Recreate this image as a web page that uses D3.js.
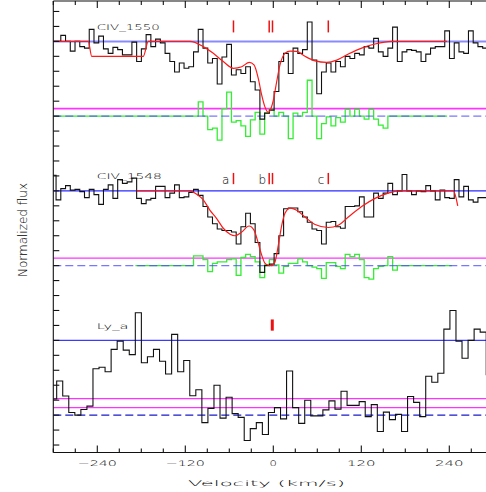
<!DOCTYPE html>
<html>
<head>
<meta charset="utf-8">
<script src="https://cdn.jsdelivr.net/npm/d3@7/dist/d3.min.js"></script>
<style>
  body { margin: 0; background: #fff; }
  svg { display: block; }
  text { font-family: "DejaVu Sans", sans-serif; font-weight: 200; fill: #000; }
</style>
</head>
<body>
<svg id="chart" width="486" height="492"></svg>
<script>
// ---- pixel grids (km/s) ----
const civBinStart = -302.7, civBinWidth = 6.464;   // CIV pixels
const lyaBinStart = -303.65, lyaBinWidth = 8.25;   // Ly-a pixels

// ---- normalised flux per pixel ----
const civ1550Flux = [
  1.00, 1.00, 1.08, 1.00, 0.87, 1.00, 0.93, 0.91, 1.16, 0.98,
  1.07, 0.90, 0.84, 0.92, 0.89, 0.82, 0.82, 0.99, 0.73, 0.90,
  1.09, 0.93, 1.03, 0.98, 0.84, 0.73, 0.59, 0.71, 0.64, 0.66,
  0.86, 1.16, 0.91, 0.71, 0.77, 0.43, 0.79, 0.96, 0.55, 0.62,
  0.57, 0.66, 0.46, 0.35, -0.04, 0.04, 0.08, 0.33, 0.73, 0.84,
  0.57, 0.91, 0.84, 0.89, 1.26, 0.75, 0.30, 0.59, 0.71, 0.59,
  0.73, 0.66, 0.80, 0.77, 0.84, 0.82, 0.93, 0.91, 1.04, 0.86,
  0.80, 0.91, 1.19, 0.73, 0.86, 0.89, 0.88, 0.86, 0.73, 0.83,
  0.91, 0.93, 0.93, 1.14, 0.77, 0.98, 0.86, 0.84, 1.14, 0.98,
  0.93, 0.91
];
const civ1548Flux = [
  1.21, 0.88, 1.03, 1.07, 1.01, 1.02, 0.99, 0.91, 1.02, 0.95,
  0.82, 1.02, 1.08, 0.90, 1.15, 1.10, 1.12, 1.17, 0.90, 0.83,
  0.88, 0.90, 1.06, 1.06, 0.91, 0.97, 1.08, 0.91, 0.92, 0.98,
  1.02, 0.94, 0.79, 0.65, 0.56, 0.49, 0.47, 0.47, 0.45, 0.29,
  0.52, 0.70, 0.56, 0.31, -0.09, 0.00, 0.02, 0.16, 0.40, 0.76,
  0.77, 0.77, 0.72, 0.65, 0.58, 0.49, 0.47, 0.29, 0.58, 0.59,
  0.52, 0.50, 0.79, 0.79, 0.80, 0.92, 0.65, 0.65, 0.97, 0.90,
  0.97, 1.10, 0.95, 1.00, 1.22, 1.00, 0.95, 1.00, 0.99, 1.07,
  1.00, 0.88, 1.01, 0.91, 0.90, 1.15, 0.92, 1.06, 0.88, 0.85,
  0.91, 0.91
];
const lyaFlux = [
  0.215, 0.457, 0.256, 0.036, 0.00, 0.076, 0.12, 0.62, 0.64, 0.58,
  0.88, 0.99, 0.87, 0.81, 1.37, 0.70, 0.78, 0.88, 0.72, 0.55,
  1.08, 0.58, 0.73, 0.26, 0.34, -0.10, 0.09, 0.40, -0.04, 0.24,
  0.02, -0.03, -0.34, -0.18, -0.10, -0.26, 0.036, 0.10, -0.05, 0.59,
  0.10, -0.11, 0.20, -0.01, -0.01, 0.07, 0.19, 0.08, 0.32, 0.13,
  0.13, 0.18, -0.02, 0.14, -0.22, 0.04, -0.06, 0.01, -0.22, 0.25,
  0.17, -0.02, 0.52, 0.44, 0.56, 1.15, 1.40, 0.99, 0.76, 1.00,
  1.15, 1.11, 0.54
];

// ---- fit residuals: first pixel index on the CIV grid, values, fit window ----
const civ1550ResidFirst = 31;
const civ1550Resid = [
  0.19, 0.00, -0.18, -0.16, -0.32, 0.10, 0.32, -0.08, -0.06, -0.13,
  -0.27, -0.05, 0.05, -0.24, 0.04, 0.09, 0.00, 0.05, 0.00, -0.30,
  0.04, 0.00, 0.05, 0.48, 0.00, -0.30, -0.10, -0.01, -0.13, -0.02,
  -0.08, 0.09, 0.00, 0.09, 0.00, -0.04, 0.09, -0.04, -0.12, -0.16
];
const civ1550Window = [-300, 237];
const civ1548ResidFirst = 30;
const civ1548Resid = [
  0.13, 0.13, 0.08, -0.08, 0.03, 0.05, 0.05, 0.08, 0.09, -0.13,
  0.11, 0.15, 0.12, 0.05, -0.16, 0.01, 0.08, 0.01, -0.10, -0.01,
  0.03, 0.03, 0.09, 0.05, 0.00, -0.02, -0.04, -0.17, 0.04, 0.04,
  -0.01, -0.04, 0.15, 0.12, 0.15, 0.08, -0.16, -0.18, -0.04, -0.01,
  0.00, 0.12, -0.06
];
const civ1548Window = [-188, 243.6];

// ---- Voigt-profile fits: [velocity, flux] ----
const civ1550Model = [
  [-300, 1.0], [-252.3, 1.0], [-247.6, 0.80], [-177.3, 0.80], [-170.5, 1.0],
  [-113.6, 1.0], [-95.5, 0.93], [-81.8, 0.84], [-68.2, 0.73], [-54.5, 0.64],
  [-43.1, 0.66], [-32.7, 0.72], [-26.3, 0.685], [-20.5, 0.505], [-15.8, 0.28],
  [-11.3, 0.12], [-6.8, 0.05], [-4.5, 0.075], [0, 0.21], [4.6, 0.46],
  [9.1, 0.685], [15.9, 0.84], [22.8, 0.87], [31.9, 0.865], [43.2, 0.80],
  [56.9, 0.74], [72.8, 0.72], [86.5, 0.75], [102.3, 0.83], [120.5, 0.91],
  [138.7, 0.965], [161.5, 1.0], [237, 1.0]
];
const civ1548Model = [
  [-186.3, 1.0], [-113.6, 1.0], [-104.5, 0.955], [-95.5, 0.88], [-86.3, 0.74],
  [-77.2, 0.63], [-68.2, 0.50], [-59.0, 0.42], [-52.2, 0.40], [-43.1, 0.45],
  [-33.1, 0.53], [-26.3, 0.475], [-20.5, 0.30], [-15.8, 0.14], [-11.3, 0.03],
  [-6.8, 0.005], [-2.2, 0.0], [2.3, 0.05], [6.8, 0.27], [11.5, 0.54],
  [15.9, 0.70], [22.8, 0.77], [31.9, 0.74], [43.2, 0.65], [56.9, 0.55],
  [75.0, 0.51], [88.6, 0.54], [102.3, 0.65], [120.5, 0.79], [138.7, 0.90],
  [156.8, 0.97], [170.5, 1.0], [245.5, 1.0], [251.5, 0.80]
];

// ---- component positions and names ----
const civComponentVel = [-54.3, -5.6, -1.1, 75.0];
const civComponentNames = ["a", "b", "", "c"];
const lyaComponentVel = [-1.4];

// ---- labels and levels ----
const panelNames = ["CIV_1550", "CIV_1548", "Ly_a"];
const velocityTicks = [-240, -120, 0, 120, 240];
const velocityTickLabels = ["\u2212240", "\u2212120", "0", "120", "240"];
const errorLevels = [[0.1], [0.1], [0.22, 0.1]];

// ================= drawing =================
const svg = d3.select("#chart");
const x = d3.scaleLinear().domain([-300, 300]).range([53.3, 493.3]);
// three panels stacked; each spans flux -0.5 .. 1.5
const stack = d3.scaleLinear().domain([-0.5, 5.5]).range([452.5, 4]);
const panelOffset = [4, 2, 0];
const yOf = (p, f) => stack(panelOffset[p] + f);

const gridPoints = (start, width, values) => {
  const pts = values.map((f, i) => [start + i * width, f]);
  pts.push([start + values.length * width, values[values.length - 1]]);
  return pts;
};

function stepPath(p, pts) {
  return d3.line().x(d => x(d[0])).y(d => yOf(p, d[1])).curve(d3.curveStepAfter)(pts);
}
function smoothPath(p, pts) {
  return d3.line().x(d => x(d[0])).y(d => yOf(p, d[1])).curve(d3.curveMonotoneX)(pts);
}
function residPoints(first, values, win) {
  const start = civBinStart + first * civBinWidth;
  const pts = [[win[0], 0], [start, 0]];
  gridPoints(start, civBinWidth, values).forEach(d => pts.push(d));
  const end = start + values.length * civBinWidth;
  pts[pts.length - 1] = [end, values[values.length - 1]];
  pts.push([end, 0], [win[1], 0]);
  return pts;
}

svg.append("clipPath").attr("id", "plotClip")
  .append("rect").attr("x", 53.3).attr("y", 0).attr("width", 440).attr("height", 452.5);
const plot = svg.append("g").attr("clip-path", "url(#plotClip)");

const contStyle = [
  { stroke: "#8a8aff", width: 2 },
  { stroke: "#2a2aff", width: 1.2 },
  { stroke: "#3a3aff", width: 1.2 }
];

const fluxSets = [
  gridPoints(civBinStart, civBinWidth, civ1550Flux),
  gridPoints(civBinStart, civBinWidth, civ1548Flux),
  gridPoints(lyaBinStart, lyaBinWidth, lyaFlux)
];
const residSets = [
  residPoints(civ1550ResidFirst, civ1550Resid, civ1550Window),
  residPoints(civ1548ResidFirst, civ1548Resid, civ1548Window),
  null
];
const modelSets = [civ1550Model, civ1548Model, null];

for (let p = 0; p < 3; p++) {
  const g = plot.append("g");
  // continuum
  g.append("line").attr("x1", x(-300)).attr("x2", x(300))
    .attr("y1", yOf(p, 1)).attr("y2", yOf(p, 1))
    .attr("stroke", contStyle[p].stroke).attr("stroke-width", contStyle[p].width);
  // error levels
  errorLevels[p].forEach(lv => {
    g.append("line").attr("x1", x(-300)).attr("x2", x(300))
      .attr("y1", yOf(p, lv)).attr("y2", yOf(p, lv))
      .attr("stroke", "#ff33ff").attr("stroke-width", p === 0 ? 1.8 : 1.2);
  });
  // residuals
  if (residSets[p]) {
    g.append("path").attr("d", stepPath(p, residSets[p]))
      .attr("fill", "none").attr("stroke", "#33ee33").attr("stroke-width", 1.3);
  }
  // zero level
  g.append("line").attr("x1", x(-300)).attr("x2", x(300))
    .attr("y1", yOf(p, 0)).attr("y2", yOf(p, 0))
    .attr("stroke", p === 2 ? "#1a1acc" : "#4a4aff")
    .attr("stroke-opacity", p === 2 ? 1 : 0.75)
    .attr("stroke-width", 1.2).attr("stroke-dasharray", "8,4");
  // data
  g.append("path").attr("d", stepPath(p, fluxSets[p]))
    .attr("fill", "none").attr("stroke", "#111").attr("stroke-width", 1.1);
  // fit
  if (modelSets[p]) {
    g.append("path").attr("d", smoothPath(p, modelSets[p]))
      .attr("fill", "none").attr("stroke", "#ff1a1a").attr("stroke-width", 1.2);
  }
}

// component marks
const markSpan = [[1.12, 1.28], [1.09, 1.24], [1.13, 1.28]];
[0, 1].forEach(p => {
  civComponentVel.forEach(v => {
    svg.append("line").attr("x1", x(v)).attr("x2", x(v))
      .attr("y1", yOf(p, markSpan[p][0])).attr("y2", yOf(p, markSpan[p][1]))
      .attr("stroke", "#ee1111").attr("stroke-width", 1.5);
  });
});
lyaComponentVel.forEach(v => {
  svg.append("line").attr("x1", x(v)).attr("x2", x(v))
    .attr("y1", yOf(2, markSpan[2][0])).attr("y2", yOf(2, markSpan[2][1]))
    .attr("stroke", "#ee1111").attr("stroke-width", 3);
});
civComponentVel.forEach((v, i) => {
  if (!civComponentNames[i]) return;
  svg.append("text").attr("x", x(v) - (i === 1 ? 3 : 4)).attr("y", yOf(1, 1.098))
    .attr("text-anchor", "end").attr("font-size", 12).attr("font-weight", 300)
    .attr("fill", "#222").text(civComponentNames[i]);
});

// panel names
const nameWidth = [63, 65, 31.6];
panelNames.forEach((name, p) => {
  svg.append("text").attr("x", 96.8).attr("y", yOf(p, 1.155))
    .attr("font-size", 7.8).attr("textLength", nameWidth[p])
    .attr("lengthAdjust", "spacingAndGlyphs").text(name);
});

// frame
const axis = svg.append("g").attr("stroke", "#111").attr("stroke-width", 1.1);
const yBottom = 452.5, yTop = 1;
axis.append("line").attr("x1", x(-300)).attr("x2", x(-300)).attr("y1", yTop).attr("y2", yBottom);
axis.append("line").attr("x1", x(-300)).attr("x2", x(300)).attr("y1", yBottom).attr("y2", yBottom);
axis.append("line").attr("x1", x(-300)).attr("x2", x(300)).attr("y1", yTop).attr("y2", yTop);

// velocity ticks every 30 km/s, longer every 120 km/s
d3.range(-300, 301, 30).forEach(v => {
  const len = v % 120 === 0 ? 7 : 4;
  axis.append("line").attr("x1", x(v)).attr("x2", x(v)).attr("y1", yBottom).attr("y2", yBottom - len);
  axis.append("line").attr("x1", x(v)).attr("x2", x(v)).attr("y1", yTop).attr("y2", yTop + len);
});
// flux ticks every 0.2 in each panel
for (let p = 0; p < 3; p++) {
  d3.range(-0.4, 1.41, 0.2).forEach(f => {
    axis.append("line").attr("x1", x(-300)).attr("x2", x(-300) + 6)
      .attr("y1", yOf(p, f)).attr("y2", yOf(p, f));
  });
}

// tick labels
velocityTicks.forEach((v, i) => {
  const s = velocityTickLabels[i];
  svg.append("text").attr("x", x(v)).attr("y", 465.5).attr("text-anchor", "middle")
    .attr("font-size", 7.6).attr("textLength", s.length * 10.6 - 3.2)
    .attr("lengthAdjust", "spacingAndGlyphs").text(s);
});

// axis titles
svg.append("text").attr("x", 266.5).attr("y", 485.5).attr("text-anchor", "middle")
  .attr("font-size", 7.8).attr("textLength", 157).attr("lengthAdjust", "spacingAndGlyphs")
  .text("Velocity (km/s)");
svg.append("text").attr("transform", "translate(26.5,230) rotate(-90)")
  .attr("text-anchor", "middle").attr("font-size", 12.5)
  .attr("font-family", "Liberation Sans Narrow, Liberation Sans, sans-serif")
  .attr("font-weight", 400)
  .attr("textLength", 94).attr("lengthAdjust", "spacingAndGlyphs")
  .attr("fill", "#444").text("Normalized flux");
</script>
</body>
</html>
